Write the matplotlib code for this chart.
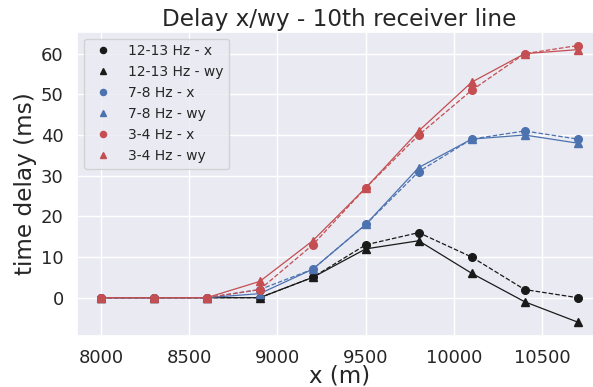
import numpy as np
import seaborn as sns
from matplotlib import pyplot as plt

sns.set_theme(style='darkgrid', palette='deep')

x = [8000, 8300, 8600, 8900, 9200, 9500, 9800, 10100, 10400, 10700]

hf_x = [0, 0, 0, 0, 5, 13, 16, 10, 2, 0]
hf_wy = [0, 0, 0, 0, 5, 12, 14, 6, -1, -6]
mf_x = [0, 0, 0, 2, 7, 18, 31, 39, 41, 39]
mf_wy = [0, 0, 0, 1, 7, 18, 32, 39, 40, 38]
lf_x = [0, 0, 0, 2, 13, 27, 40, 51, 60, 62]
lf_wy = [0, 0, 0, 4, 14, 27, 41, 53, 60, 61]

bands = ['12-13 Hz', '7-8 Hz', '3-4 Hz']
colors = ['k', '#4C72B0', '#C44E52']
series = [(hf_x, hf_wy), (mf_x, mf_wy), (lf_x, lf_wy)]

fig = plt.figure(figsize=(5.93, 3.87), dpi=100)
ax = fig.add_axes([0.1298, 0.132, 0.8845, 0.786])

for band, c, (yx, ywy) in zip(bands, colors, series):
	ax.plot(x, yx, '--', color=c, lw=0.9)
	ax.plot(x, ywy, '-', color=c, lw=0.9)
	ax.plot(x, yx, 'o', color=c, ms=5.5, label=band + ' - x')
	ax.plot(x, ywy, '^', color=c, ms=5.5, label=band + ' - wy')

ax.set_xlim(7865, 10835)
ax.set_ylim(-9.4, 65.4)
ax.set_yticks([0, 10, 20, 30, 40, 50, 60])
ax.set_xticks([8000, 8500, 9000, 9500, 10000, 10500])
ax.tick_params(labelsize=13)
ax.set_xlabel('x (m)', fontsize=16.5, labelpad=-2)
ax.set_ylabel('time delay (ms)', fontsize=16.7, labelpad=3)
ax.set_title('Delay x/wy - 10th receiver line', fontsize=16.7, pad=4)
ax.legend(loc='upper left', fontsize=10, numpoints=1, markerscale=0.8)

plt.savefig('out.png', dpi=100)
plt.close()
